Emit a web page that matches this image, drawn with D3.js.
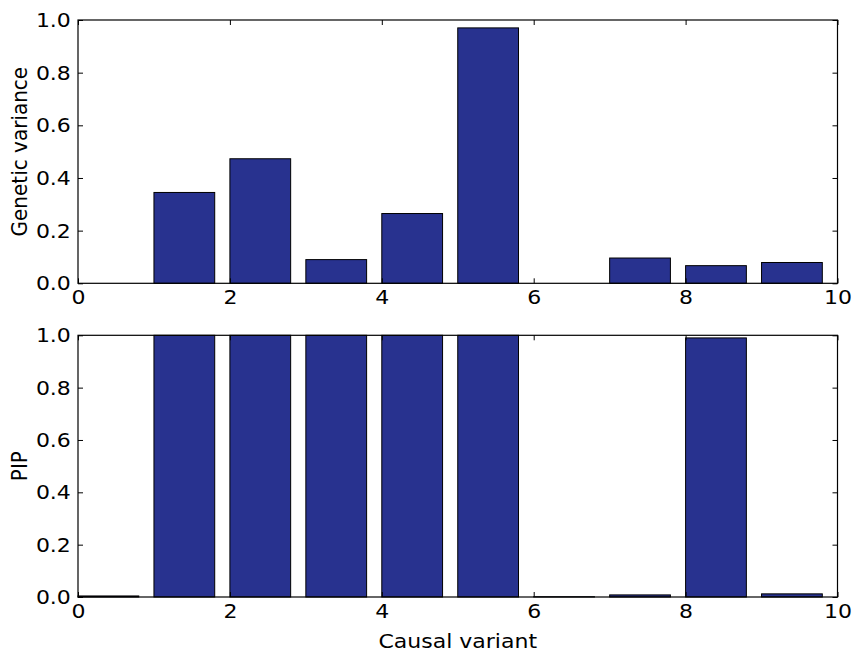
<!DOCTYPE html>
<html>
<head>
<meta charset="utf-8">
<script src="https://cdn.jsdelivr.net/npm/d3@7"></script>
<style>
  html, body { margin: 0; padding: 0; background: #fff; }
  svg { display: block; }
  text { font-family: "DejaVu Sans", sans-serif; fill: #000; }
</style>
</head>
<body>
<svg id="chart" width="853" height="654"></svg>
<script>
// Causal variant index (bar left edges)
const variants = [0, 1, 2, 3, 4, 5, 6, 7, 8, 9];
// Genetic variance explained by each variant
const geneticVariance = [0, 0.345, 0.473, 0.09, 0.265, 0.97, 0, 0.096, 0.067, 0.079];
// Posterior inclusion probability of each variant
const pip = [0.004, 1.0, 1.0, 1.0, 1.0, 1.0, 0.001, 0.008, 0.99, 0.012];

const xTicks = [0, 2, 4, 6, 8, 10];
const yTicks = [0, 0.2, 0.4, 0.6, 0.8, 1.0];
const barWidth = 0.8;

const svg = d3.select("#chart");
const left = 78, right = 837.5;
const barColor = "#28328f";
const fontSize = 20;
const stretch = 1.1; // glyphs are set slightly wide

const x = d3.scaleLinear().domain([0, 10]).range([left, right]);

function panel(top, bottom, values, ylabel, showXLabel) {
  const y = d3.scaleLinear().domain([0, 1]).range([bottom, top]);
  const g = svg.append("g");

  // bars
  g.selectAll("rect.bar")
    .data(variants)
    .join("rect")
    .attr("class", "bar")
    .attr("x", d => x(d))
    .attr("width", d => x(d + barWidth) - x(d))
    .attr("y", (d, i) => y(values[i]))
    .attr("height", (d, i) => y(0) - y(values[i]))
    .attr("fill", barColor)
    .attr("stroke", "#000")
    .attr("stroke-width", 1);

  // inward ticks on all four sides, labels on bottom and left
  const tickLen = 5;
  const bottomAxis = d3.axisBottom(x).tickValues(xTicks).tickFormat(d3.format("d"))
    .tickSizeInner(-tickLen).tickSizeOuter(0).tickPadding(7);
  const topAxis = d3.axisTop(x).tickValues(xTicks).tickFormat("")
    .tickSizeInner(-tickLen).tickSizeOuter(0);
  const leftAxis = d3.axisLeft(y).tickValues(yTicks).tickFormat(d3.format(".1f"))
    .tickSizeInner(-tickLen).tickSizeOuter(0).tickPadding(6.5);
  const rightAxis = d3.axisRight(y).tickValues(yTicks).tickFormat("")
    .tickSizeInner(-tickLen).tickSizeOuter(0);

  const axes = [
    g.append("g").attr("transform", `translate(0,${bottom})`).call(bottomAxis),
    g.append("g").attr("transform", `translate(0,${top})`).call(topAxis),
    g.append("g").attr("transform", `translate(${left},0)`).call(leftAxis),
    g.append("g").attr("transform", `translate(${right},0)`).call(rightAxis)
  ];
  axes.forEach(a => {
    a.select(".domain").remove();
    a.selectAll(".tick line").attr("stroke", "#000").attr("stroke-width", 1);
    a.selectAll(".tick text")
      .attr("font-size", fontSize)
      .attr("font-family", "DejaVu Sans, sans-serif")
      .attr("transform", `scale(${stretch},1)`);
  });

  // frame
  g.append("rect")
    .attr("x", left).attr("y", top)
    .attr("width", right - left).attr("height", bottom - top)
    .attr("fill", "none").attr("stroke", "#000").attr("stroke-width", 1.2);

  // y label
  g.append("text")
    .attr("transform", `translate(27,${(top + bottom) / 2}) scale(${stretch},1) rotate(-90)`)
    .attr("text-anchor", "middle")
    .attr("font-size", fontSize)
    .text(ylabel);

  if (showXLabel) {
    g.append("text")
      .attr("transform", `translate(${(left + right) / 2},648) scale(${stretch},1)`)
      .attr("text-anchor", "middle")
      .attr("font-size", fontSize)
      .text("Causal variant");
  }
}

panel(20, 283.3, geneticVariance, "Genetic variance", false);
panel(335.3, 597, pip, "PIP", true);
</script>
</body>
</html>
